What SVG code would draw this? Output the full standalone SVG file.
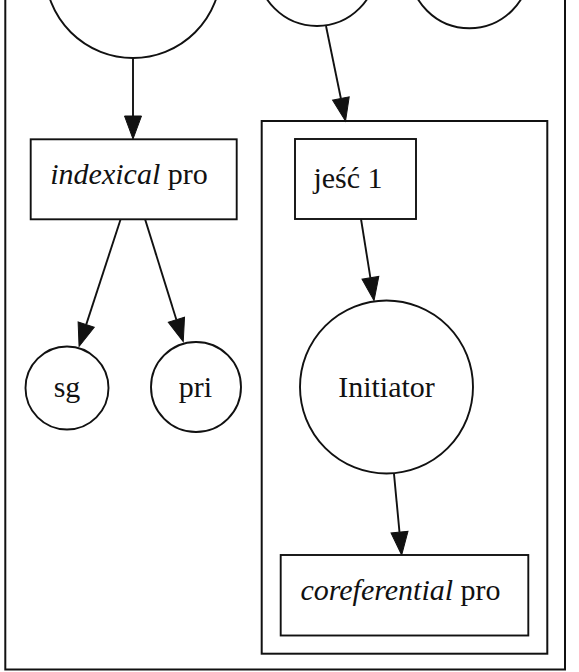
<svg xmlns="http://www.w3.org/2000/svg" width="579" height="672" viewBox="0 0 579 672">
  <style>
    .frame { fill: none; stroke: #111; stroke-width: 2; }
    .node { fill: #fff; stroke: #111; stroke-width: 1.9; }
    .edge { fill: none; stroke: #111; stroke-width: 1.9; }
    text { font-family: 'Liberation Serif', 'DejaVu Serif', serif; font-size: 30px; fill: #111; text-anchor: middle; }
    .it { font-style: italic; }
  </style>
  <defs>
    <marker id="arrow" markerUnits="userSpaceOnUse" markerWidth="24" markerHeight="18" refX="0" refY="8.5" orient="auto" overflow="visible">
      <path d="M0,0 L23,8.5 L0,17 Z" fill="#111" stroke="#111" stroke-width="1"/>
    </marker>
  </defs>

  <rect id="background" x="0" y="0" width="579" height="672" fill="#fff"/>

  <!-- outer cluster (top edge lies above the visible area) -->
  <rect id="cluster-outer" class="frame" x="5.3" y="-200" width="559.7" height="869.5"/>
  <!-- inner cluster -->
  <rect id="cluster-inner" class="frame" x="261.7" y="121" width="285.6" height="532.7"/>

  <g id="edges">
    <line class="edge" x1="133" y1="58" x2="133" y2="116" marker-end="url(#arrow)"/>
    <line class="edge" x1="326" y1="26" x2="340.9" y2="98.5" marker-end="url(#arrow)"/>
    <line class="edge" x1="120.7" y1="219" x2="86.2" y2="324.6" marker-end="url(#arrow)"/>
    <line class="edge" x1="145" y1="219" x2="176.4" y2="319.7" marker-end="url(#arrow)"/>
    <line class="edge" x1="361" y1="219" x2="370.4" y2="277.8" marker-end="url(#arrow)"/>
    <line class="edge" x1="394" y1="474" x2="399.5" y2="532.1" marker-end="url(#arrow)"/>
  </g>

  <g id="node-top-left">
    <circle class="node" cx="133" cy="-30" r="88"/>
  </g>
  <g id="node-top-middle">
    <circle class="node" cx="317" cy="-34" r="60"/>
  </g>
  <g id="node-top-right">
    <circle class="node" cx="469.5" cy="-31.7" r="60"/>
  </g>

  <g id="node-indexical">
    <rect class="node" x="30.7" y="139.3" width="206" height="80"/>
    <text font-family="Liberation Serif, serif" x="129" y="184"><tspan class="it">indexical</tspan> pro</text>
  </g>

  <g id="node-sg">
    <circle class="node" cx="67" cy="388" r="41.5"/>
    <text font-family="Liberation Serif, serif" x="67" y="397">sg</text>
  </g>

  <g id="node-pri">
    <circle class="node" cx="196" cy="387" r="45"/>
    <text font-family="Liberation Serif, serif" x="195.5" y="397">pri</text>
  </g>

  <g id="node-jesc">
    <rect class="node" x="295" y="139" width="121" height="80"/>
    <text font-family="Liberation Serif, serif" x="348" y="188">jeść 1</text>
  </g>

  <g id="node-initiator">
    <circle class="node" cx="386.5" cy="387" r="86.5"/>
    <text font-family="Liberation Serif, serif" x="386.5" y="397">Initiator</text>
  </g>

  <g id="node-coreferential">
    <rect class="node" x="280.7" y="555" width="247.6" height="80.5"/>
    <text font-family="Liberation Serif, serif" x="400.5" y="600"><tspan class="it">coreferential</tspan> pro</text>
  </g>
</svg>
